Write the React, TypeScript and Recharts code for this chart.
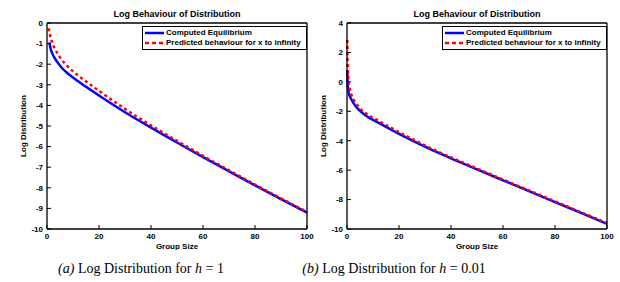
import { LineChart, Line, XAxis, YAxis, Legend } from "recharts";

// group size axis
const xTicks = [0, 20, 40, 60, 80, 100];

// (a) h = 1
const leftYTicks = [-10, -9, -8, -7, -6, -5, -4, -3, -2, -1, 0];
const leftComputedX = [0.9, 1.5, 2.5, 4, 6, 8, 10, 13, 16, 20, 25, 30, 35, 40, 50, 60, 70, 80, 90, 100];
const leftComputedY = [-0.95, -1.3, -1.6, -1.9, -2.22, -2.45, -2.65, -2.92, -3.18, -3.52, -3.93, -4.33, -4.71, -5.08, -5.8, -6.51, -7.2, -7.88, -8.55, -9.2];
const leftPredictedX = [0.6, 1, 2, 3, 4, 5, 7, 10, 13, 16, 20, 25, 30, 35, 40, 50, 60, 70, 80, 90, 100];
const leftPredictedY = [-0.25, -0.5, -0.95, -1.25, -1.47, -1.67, -1.98, -2.35, -2.65, -2.93, -3.3, -3.74, -4.17, -4.58, -4.97, -5.72, -6.45, -7.15, -7.84, -8.51, -9.17];

// (b) h = 0.01
const rightYTicks = [-10, -8, -6, -4, -2, 0, 2, 4];
const rightComputedX = [0.12, 0.25, 0.5, 1, 1.5, 2.5, 3.8, 5.4, 8, 11.8, 15, 18.2, 24.6, 31, 40, 50, 60, 70, 80, 90, 100];
const rightComputedY = [0.8, -0.1, -0.6, -0.95, -1.12, -1.45, -1.75, -2.03, -2.38, -2.75, -3.06, -3.36, -3.94, -4.49, -5.2, -5.95, -6.69, -7.43, -8.17, -8.91, -9.65];
const rightPredictedX = [0.1, 0.2, 0.35, 0.6, 1, 1.5, 2.5, 3.5, 5, 7.9, 11.8, 15, 18.2, 24.6, 31, 40, 50, 60, 70, 80, 90, 100];
const rightPredictedY = [2.85, 1.6, 0.7, 0.0, -0.45, -0.78, -1.2, -1.46, -1.8, -2.22, -2.6, -2.93, -3.24, -3.84, -4.41, -5.13, -5.89, -6.64, -7.38, -8.12, -8.86, -9.6];

const legendNames = ["Computed Equilibrium", "Predicted behaviour for x to infinity"];

const BLUE = "#0000ff";
const RED = "#ff0000";
const FONT = "'Liberation Sans', Arial, sans-serif";

const zip = (xs: number[], ys: number[]) => xs.map((x, i) => ({ x, y: ys[i] }));

const tickStyle = { fontSize: 8, fontWeight: "bold", fill: "#000", fontFamily: FONT };

const LegendBox = () => (
  <div
    style={{
      border: "1px solid #000",
      background: "#fff",
      padding: "1px 0",
      fontFamily: FONT,
      fontSize: 8,
      fontWeight: "bold",
      lineHeight: "10px",
      color: "#000",
    }}
  >
    {legendNames.map((name, i) => (
      <div key={name} style={{ display: "flex", alignItems: "center", height: 10 }}>
        <svg width={23} height={10} style={{ flex: "none" }}>
          <line
            x1={2}
            x2={21}
            y1={5}
            y2={5}
            stroke={i === 0 ? BLUE : RED}
            strokeWidth={2.5}
            strokeDasharray={i === 0 ? undefined : "4 3"}
          />
        </svg>
        <span style={{ whiteSpace: "nowrap" }}>{name}</span>
      </div>
    ))}
  </div>
);

const YLabel = (props: any) => {
  const { x, y, height } = props.viewBox;
  const cx = x + 6;
  const cy = y + height / 2;
  return (
    <text
      x={cx}
      y={cy}
      transform={`rotate(-90 ${cx} ${cy})`}
      textAnchor="middle"
      dominantBaseline="central"
      style={tickStyle}
    >
      Log Distribution
    </text>
  );
};

interface PanelProps {
  left: number;
  computed: { x: number; y: number }[];
  predicted: { x: number; y: number }[];
  yTicks: number[];
}

const Panel = ({ left, computed, predicted, yTicks }: PanelProps) => {
  const domain = [yTicks[0], yTicks[yTicks.length - 1]];
  return (
    <div style={{ position: "absolute", left, top: 0, width: 320, height: 250 }}>
      <div
        style={{
          position: "absolute",
          left: 47,
          width: 260,
          top: 9,
          textAlign: "center",
          fontFamily: FONT,
          fontSize: 9,
          fontWeight: "bold",
          lineHeight: "10px",
        }}
      >
        Log Behaviour of Distribution
      </div>
      <LineChart width={320} height={250} margin={{ top: 22, right: 12, left: 17, bottom: 1 }}>
        <XAxis
          type="number"
          dataKey="x"
          domain={[0, 100]}
          ticks={xTicks}
          interval={0}
          height={20}
          tickSize={-4}
          tickMargin={8}
          axisLine={{ stroke: "#000", strokeWidth: 1.3 }}
          tickLine={{ stroke: "#000" }}
          tick={tickStyle}
          label={{ value: "Group Size", position: "insideBottom", offset: 0, style: tickStyle }}
        />
        <XAxis
          xAxisId="top"
          orientation="top"
          type="number"
          dataKey="x"
          domain={[0, 100]}
          ticks={xTicks}
          interval={0}
          height={1}
          tickSize={-4}
          axisLine={{ stroke: "#000", strokeWidth: 1.3 }}
          tickLine={{ stroke: "#000" }}
          tick={() => null}
        />
        <YAxis
          type="number"
          domain={domain}
          ticks={yTicks}
          interval={0}
          width={30}
          tickSize={-4}
          tickMargin={8}
          axisLine={{ stroke: "#000", strokeWidth: 1.3 }}
          tickLine={{ stroke: "#000" }}
          tick={tickStyle}
          label={{ content: YLabel }}
        />
        <YAxis
          yAxisId="right"
          orientation="right"
          type="number"
          domain={domain}
          ticks={yTicks}
          interval={0}
          width={1}
          tickSize={-4}
          axisLine={{ stroke: "#000", strokeWidth: 1.3 }}
          tickLine={{ stroke: "#000" }}
          tick={() => null}
        />
        <Line
          data={computed}
          dataKey="y"
          type="monotone"
          stroke={BLUE}
          strokeWidth={2.5}
          dot={false}
          isAnimationActive={false}
        />
        <Line
          data={predicted}
          dataKey="y"
          type="monotone"
          stroke={RED}
          strokeWidth={2.5}
          strokeDasharray="3 3"
          dot={false}
          isAnimationActive={false}
        />
        <Legend
          layout="vertical"
          align="center"
          verticalAlign="middle"
          content={LegendBox}
          wrapperStyle={{ top: 26, left: 142, width: 165, height: 22 }}
        />
      </LineChart>
    </div>
  );
};

const Caption = ({ center, tag, h }: { center: number; tag: string; h: string }) => (
  <div
    style={{
      position: "absolute",
      left: center - 150,
      width: 300,
      top: 261,
      textAlign: "center",
      fontFamily: "'Liberation Serif', 'Times New Roman', serif",
      fontSize: 14,
      lineHeight: "16px",
      whiteSpace: "nowrap",
    }}
  >
    <i>({tag})</i> Log Distribution for <i>h</i> = {h}
  </div>
);

export default function App() {
  return (
    <div style={{ position: "absolute", left: 0, top: 0, width: 620, height: 282, background: "#fff", overflow: "hidden" }}>
      <Panel left={0} computed={zip(leftComputedX, leftComputedY)} predicted={zip(leftPredictedX, leftPredictedY)} yTicks={leftYTicks} />
      <Panel left={300} computed={zip(rightComputedX, rightComputedY)} predicted={zip(rightPredictedX, rightPredictedY)} yTicks={rightYTicks} />
      <Caption center={141} tag="a" h="1" />
      <Caption center={394} tag="b" h="0.01" />
    </div>
  );
}
